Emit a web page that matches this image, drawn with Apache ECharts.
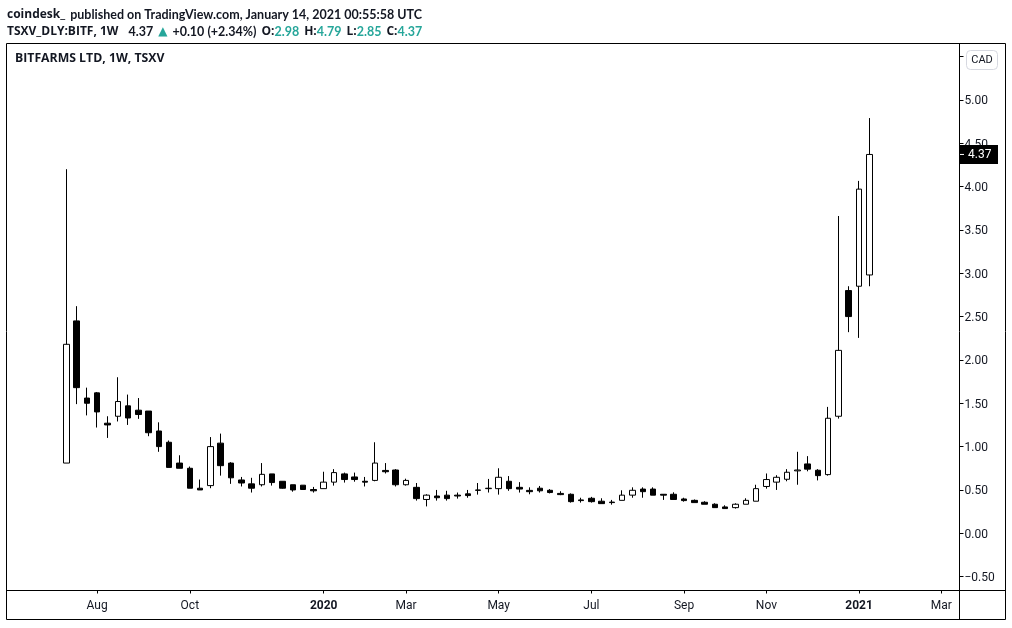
<!DOCTYPE html>
<html>
<head>
<meta charset="utf-8">
<title>BITF</title>
<style>
  html, body { margin: 0; padding: 0; background: #fff; }
  #chart { width: 1012px; height: 628px; }
</style>
<script src="https://cdn.jsdelivr.net/npm/echarts@6/dist/echarts.min.js"></script>
</head>
<body>
<div id="chart"></div>
<script>
// weekly candles: [open, close, low, high]
const candles = [
  [0.81, 2.18, 0.81, 4.20], [2.45, 1.68, 1.49, 2.62], [1.56, 1.50, 1.36, 1.68], [1.62, 1.40, 1.22, 1.63],
  [1.27, 1.25, 1.10, 1.35], [1.35, 1.52, 1.29, 1.80], [1.47, 1.33, 1.25, 1.60], [1.42, 1.37, 1.32, 1.56],
  [1.41, 1.16, 1.12, 1.41], [1.18, 1.00, 0.94, 1.28], [1.05, 0.76, 0.76, 1.07], [0.81, 0.75, 0.75, 0.90],
  [0.75, 0.52, 0.52, 0.77], [0.52, 0.50, 0.50, 0.62], [0.55, 1.00, 0.52, 1.11], [1.04, 0.78, 0.665, 1.15],
  [0.81, 0.64, 0.57, 0.82], [0.615, 0.58, 0.54, 0.65], [0.57, 0.52, 0.47, 0.64], [0.56, 0.68, 0.54, 0.81],
  [0.685, 0.585, 0.55, 0.685], [0.60, 0.52, 0.515, 0.60], [0.56, 0.50, 0.48, 0.56], [0.555, 0.505, 0.50, 0.555],
  [0.505, 0.49, 0.47, 0.535], [0.515, 0.59, 0.515, 0.71], [0.59, 0.70, 0.55, 0.74], [0.685, 0.62, 0.585, 0.70],
  [0.65, 0.62, 0.595, 0.70], [0.60, 0.59, 0.54, 0.65], [0.61, 0.81, 0.60, 1.05], [0.725, 0.71, 0.69, 0.81],
  [0.73, 0.56, 0.54, 0.74], [0.56, 0.61, 0.55, 0.63], [0.53, 0.40, 0.377, 0.58], [0.39, 0.44, 0.31, 0.45],
  [0.43, 0.41, 0.377, 0.50], [0.44, 0.40, 0.377, 0.49], [0.44, 0.43, 0.40, 0.47], [0.455, 0.435, 0.41, 0.50],
  [0.495, 0.50, 0.446, 0.58], [0.515, 0.52, 0.47, 0.627], [0.515, 0.646, 0.446, 0.75], [0.60, 0.515, 0.49, 0.66],
  [0.53, 0.51, 0.47, 0.59], [0.495, 0.48, 0.45, 0.53], [0.52, 0.49, 0.47, 0.546], [0.496, 0.47, 0.46, 0.51],
  [0.46, 0.446, 0.44, 0.485], [0.45, 0.365, 0.354, 0.46], [0.385, 0.377, 0.354, 0.41], [0.404, 0.365, 0.354, 0.42],
  [0.37, 0.342, 0.342, 0.404], [0.36, 0.354, 0.33, 0.385], [0.38, 0.44, 0.38, 0.496], [0.44, 0.496, 0.41, 0.53],
  [0.51, 0.48, 0.41, 0.53], [0.51, 0.44, 0.44, 0.53], [0.45, 0.44, 0.385, 0.45], [0.45, 0.39, 0.39, 0.473],
  [0.396, 0.377, 0.365, 0.41], [0.38, 0.354, 0.354, 0.39], [0.358, 0.335, 0.335, 0.37], [0.335, 0.296, 0.296, 0.346],
  [0.304, 0.285, 0.285, 0.323], [0.296, 0.335, 0.285, 0.346], [0.335, 0.38, 0.335, 0.404], [0.37, 0.515, 0.37, 0.56],
  [0.54, 0.62, 0.515, 0.69], [0.59, 0.646, 0.50, 0.67], [0.623, 0.704, 0.60, 0.74], [0.72, 0.73, 0.56, 0.94],
  [0.80, 0.74, 0.715, 0.89], [0.727, 0.665, 0.61, 0.74], [0.677, 1.327, 0.665, 1.458], [1.35, 2.11, 1.323, 3.66],
  [2.80, 2.50, 2.32, 2.85], [2.85, 3.97, 2.254, 4.065], [2.98, 4.37, 2.85, 4.79]
];

// index of the week in candles -> label on the time axis
const timeLabels = {
  3: 'Aug', 12: 'Oct', 25: '2020', 33: 'Mar', 42: 'May', 51: 'Jul',
  60: 'Sep', 68: 'Nov', 77: '2021', 85: 'Mar'
};
const boldLabels = ['2020', '2021'];
const priceTicks = [-0.5, 0, 0.5, 1, 1.5, 2, 2.5, 3, 3.5, 4, 4.5, 5, 5.5];
const priceLabels = [-0.5, 0, 0.5, 1, 1.5, 2, 2.5, 3, 3.5, 4, 4.5, 5];
const lastClose = 4.37;

const leadingWeeks = 5;
const trailingWeeks = 8;
const categories = [];
for (let i = -leadingWeeks; i < candles.length + trailingWeeks; i++) categories.push(String(i));
const rows = categories.map((c) => candles[+c] || '-');

const font = 'Lato, sans-serif';
const boldFont = '"Open Sans", sans-serif';
const axisFont = 'Roboto, sans-serif';
const teal = '#26a69a';
const ink = '#131722';

let chart = echarts.init(document.getElementById('chart'));

const option = {
  animation: false,
  backgroundColor: '#fff',
  title: [
    {
      left: 7, top: 6, padding: 0,
      text: '{b|coindesk_} {n|published on TradingView.com, January 14, 2021 00:55:58 UTC}',
      textStyle: { rich: {
        b: { fontFamily: boldFont, fontSize: 12, fontWeight: 'bold', color: ink },
        n: { fontFamily: font, fontSize: 12.5, color: ink }
      } }
    },
    {
      left: 7, top: 23, padding: 0,
      text: '{b|TSXV_DLY:BITF, 1W}  {n|4.37} {t|▲} {n|+0.10 (+2.34%)} {b|O:}{v|2.98} {b|H:}{v|4.79} {b|L:}{v|2.85} {b|C:}{v|4.37}',
      textStyle: { rich: {
        b: { fontFamily: boldFont, fontSize: 12, fontWeight: 'bold', color: ink },
        n: { fontFamily: font, fontSize: 12.5, color: ink },
        t: { fontFamily: 'DejaVu Sans', fontSize: 12, color: teal },
        v: { fontFamily: font, fontSize: 12.5, color: teal }
      } }
    },
    {
      left: 15, top: 53, padding: 0,
      text: 'BITFARMS LTD, 1W, TSXV',
      textStyle: { fontFamily: boldFont, fontSize: 12.25, fontWeight: 'bold', color: ink }
    }
  ],
  grid: { left: 14.8, right: 60.3, top: 43.5, bottom: 37.5 },
  xAxis: {
    type: 'category',
    data: categories,
    boundaryGap: false,
    axisLine: { show: false, onZero: false },
    axisTick: {
      length: 3,
      lineStyle: { color: '#000' },
      interval: (i) => timeLabels[i - leadingWeeks] !== undefined
    },
    axisLabel: {
      margin: 9,
      fontFamily: axisFont,
      fontSize: 12,
      color: ink,
      interval: (i) => timeLabels[i - leadingWeeks] !== undefined,
      formatter: (v) => {
        const t = timeLabels[+v];
        return boldLabels.includes(t) ? '{b|' + t + '}' : t;
      },
      rich: { b: { fontFamily: axisFont, fontSize: 12, fontWeight: 'bold', color: ink } }
    },
    splitLine: { show: false }
  },
  yAxis: {
    type: 'value',
    position: 'right',
    offset: 7.8,
    min: -0.66,
    max: 5.65,
    axisLine: { show: false },
    axisTick: { show: true, length: 4, lineStyle: { color: '#000' }, customValues: priceTicks },
    axisLabel: {
      margin: 5,
      color: ink,
      customValues: priceLabels,
      formatter: (v) => '{p|' + (v < 0 ? '\u2212' : '') + Math.abs(v).toFixed(2) + '}',
      rich: { p: { fontFamily: axisFont, fontSize: 12, color: ink, padding: [3, 0, 0, 0] } }
    },
    splitLine: { show: false }
  },
  series: [{
    type: 'candlestick',
    data: rows,
    barWidth: 6,
    clip: false,
    itemStyle: {
      color: '#ffffff', borderColor: '#000000',
      color0: '#000000', borderColor0: '#000000',
      borderWidth: 1
    }
  }],
  graphic: [
    { type: 'rect', z: 50, silent: true, shape: { x: 6.5, y: 43.5, width: 999, height: 576 }, style: { fill: 'none', stroke: '#000', lineWidth: 1 } },
    { type: 'line', z: 50, silent: true, shape: { x1: 6.5, y1: 590.5, x2: 1005.5, y2: 590.5 }, style: { stroke: '#000', lineWidth: 1 } },
    { type: 'line', z: 50, silent: true, shape: { x1: 959.5, y1: 43.5, x2: 959.5, y2: 619.5 }, style: { stroke: '#000', lineWidth: 1 } },
    { type: 'rect', z: 60, silent: true, shape: { x: 966.5, y: 50.5, width: 31, height: 19, r: 4 }, style: { fill: '#fff', stroke: '#d6d8e0', lineWidth: 1 } },
    { type: 'text', z: 61, silent: true, x: 982, y: 60, style: { text: 'CAD', fontFamily: axisFont, fontSize: 11, fill: ink, align: 'center', verticalAlign: 'middle' } }
  ]
};
chart.setOption(option);

// price badge sits on the last close, so take its height from the axis
const badgeY = chart.convertToPixel({ yAxisIndex: 0 }, lastClose);
chart.setOption({
  graphic: option.graphic.concat([
    { type: 'rect', z: 70, silent: true, shape: { x: 959.5, y: badgeY - 9.5, width: 38.5, height: 19 }, style: { fill: '#000' } },
    { type: 'line', z: 71, silent: true, shape: { x1: 960, y1: badgeY, x2: 964, y2: badgeY }, style: { stroke: '#fff', lineWidth: 1 } },
    { type: 'text', z: 71, silent: true, x: 968, y: badgeY + 1, style: { text: lastClose.toFixed(2), fontFamily: axisFont, fontSize: 12, fill: '#fff', align: 'left', verticalAlign: 'middle' } }
  ])
});

window.addEventListener('resize', () => {
  chart.resize();
});
</script>
</body>
</html>
